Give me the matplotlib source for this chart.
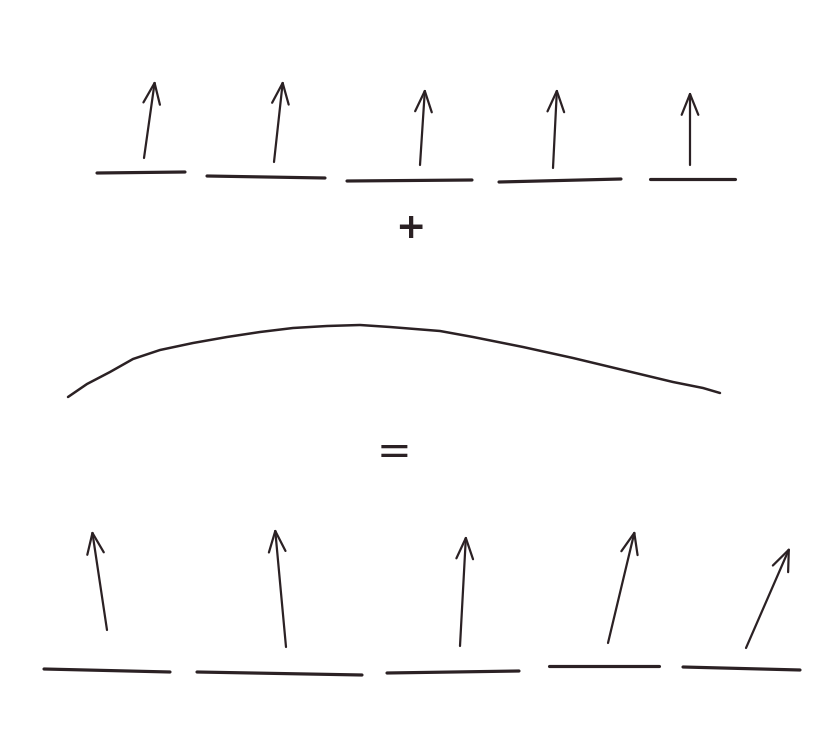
import numpy as np
import matplotlib.pyplot as plt

# pixel coordinates (x to the right, y downwards)
top_bases = [(97, 185, 173, 172), (207, 325, 176, 178), (347, 472, 181, 180),
             (499, 621, 182, 179), (650, 735, 179, 179)]
top_tails = [(144, 158), (274, 162), (420, 165), (553, 168), (690, 165)]
top_heads = [(155, 80), (283, 80), (425, 88), (557, 88), (690, 91)]

curve_x = [68, 87, 110, 133, 160, 193, 227, 260, 293, 327, 360, 390,
           440, 473, 523, 573, 623, 673, 703, 720]
curve_y = [397, 384, 372, 359, 350, 343, 337, 332, 328, 326, 325, 327,
           331, 337, 347, 358, 370, 382, 388, 393]

bot_bases = [(44, 170, 669, 672), (197, 362, 672, 675), (387, 519, 673, 671),
             (549, 659, 666, 666), (683, 800, 667, 670)]
bot_tails = [(107, 630), (286, 647), (460, 646), (608, 643), (746, 648)]
bot_heads = [(92, 530), (275, 528), (466, 535), (635, 530), (790, 547)]

ink = "#2b2124"


def draw_row(ax, bases, tails, heads):
    for x0, x1, y0, y1 in bases:
        ax.plot([x0, x1], [y0, y1], color=ink, lw=2.3, solid_capstyle="round")
    for t, h in zip(tails, heads):
        ax.annotate("", xy=h, xytext=t,
                    arrowprops=dict(arrowstyle="->,head_length=0.75,head_width=0.3",
                                    color=ink, lw=1.6, shrinkA=0, shrinkB=0,
                                    mutation_scale=20))


def main():
    fig = plt.figure(figsize=(8.35, 7.52), dpi=100)
    ax = fig.add_axes([0, 0, 1, 1])
    ax.set_xlim(0, 835)
    ax.set_ylim(752, 0)
    ax.axis("off")

    draw_row(ax, top_bases, top_tails, top_heads)
    ax.text(410, 228, "+", ha="center", va="center", fontsize=26,
            fontweight="bold", color=ink)

    ax.plot(curve_x, curve_y, color=ink, lw=1.8, solid_capstyle="round",
            solid_joinstyle="round")
    ax.text(394, 452, "=", ha="center", va="center", fontsize=30, color=ink)

    draw_row(ax, bot_bases, bot_tails, bot_heads)

    fig.savefig("out.png", dpi=100, facecolor="white")


if __name__ == "__main__":
    main()
